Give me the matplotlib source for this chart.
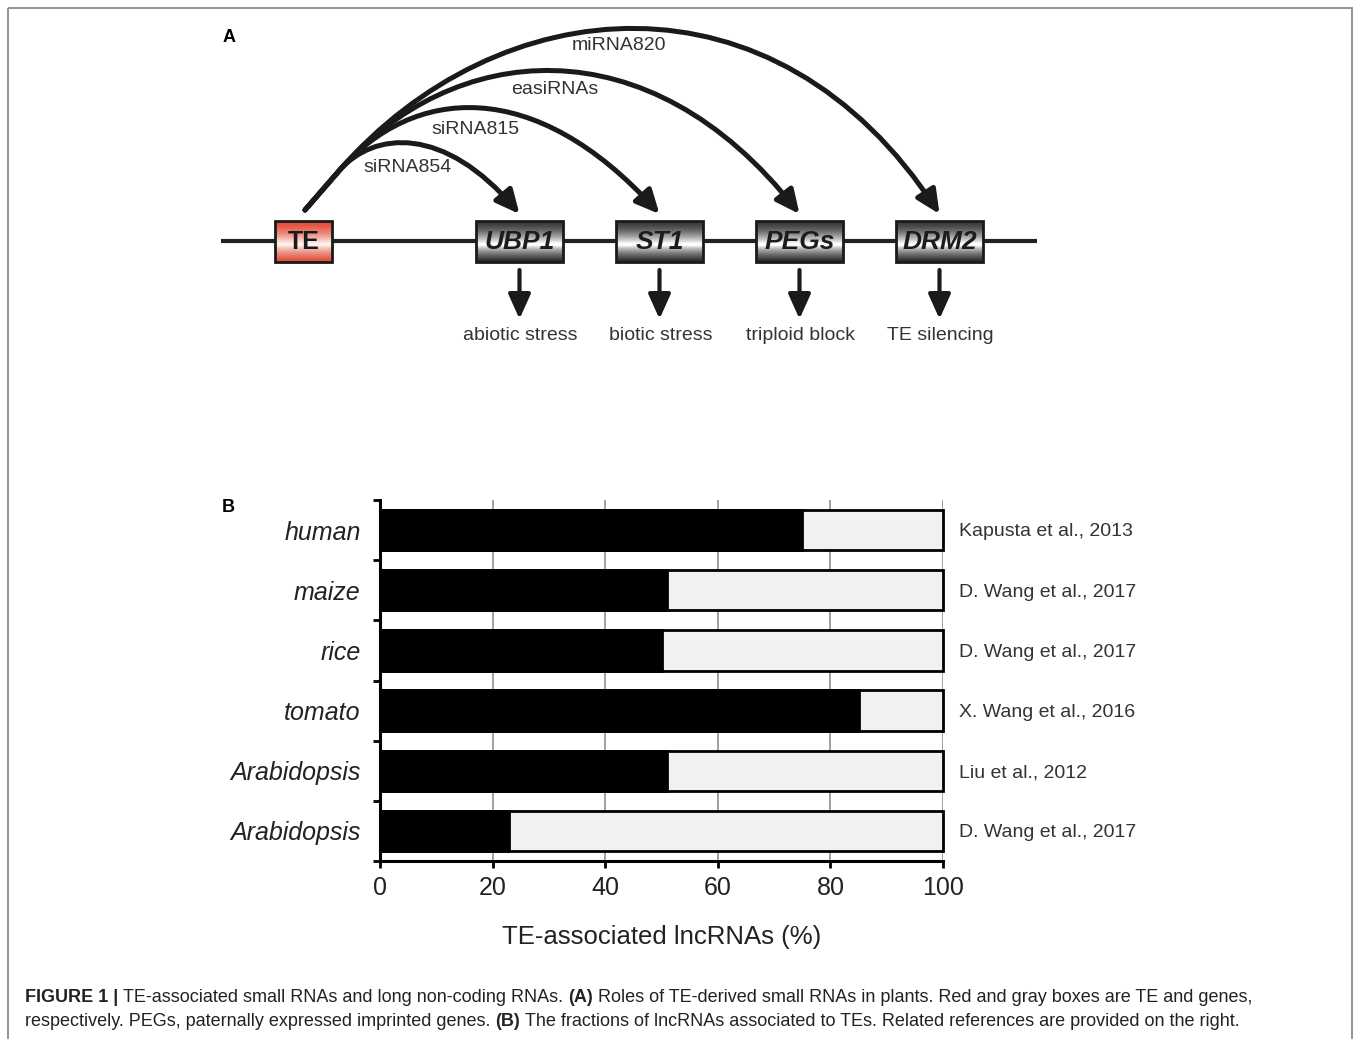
import numpy as np
import matplotlib
matplotlib.use("Agg")
import matplotlib.pyplot as plt
from matplotlib import font_manager
from matplotlib.patches import FancyArrowPatch, Rectangle
from matplotlib.path import Path

# ---- data ----
te_label = "TE"
genes = ["UBP1", "ST1", "PEGs", "DRM2"]
small_rnas = ["siRNA854", "siRNA815", "easiRNAs", "miRNA820"]
effects = ["abiotic stress", "biotic stress", "triploid block", "TE silencing"]

species = ["human", "maize", "rice", "tomato", "Arabidopsis", "Arabidopsis"]
te_pct = [75, 51, 50, 85, 51, 23]
refs = ["Kapusta et al., 2013", "D. Wang et al., 2017", "D. Wang et al., 2017",
        "X. Wang et al., 2016", "Liu et al., 2012", "D. Wang et al., 2017"]

caption1 = [("FIGURE 1 |", True), ("TE-associated small RNAs and long non-coding RNAs.", False),
            ("(A)", True), ("Roles of TE-derived small RNAs in plants. Red and gray boxes are TE and genes,", False)]
caption2 = [("respectively. PEGs, paternally expressed imprinted genes.", False), ("(B)", True),
            ("The fractions of lncRNAs associated to TEs. Related references are provided on the right.", False)]

names = {f.name for f in font_manager.fontManager.ttflist}
SANS = "Liberation Sans" if "Liberation Sans" in names else "DejaVu Sans"
plt.rcParams["font.family"] = [SANS, "DejaVu Sans"]

W, H = 1357, 1039
fig = plt.figure(figsize=(W / 100, H / 100), dpi=100)
ax0 = fig.add_axes([0, 0, 1, 1])
ax0.set_xlim(0, W)
ax0.set_ylim(H, 0)
ax0.axis("off")

# frame
ax0.add_patch(Rectangle((8, 8), 1344, 1060, fill=False, ec="#8a8a8a", lw=1.3, clip_on=False))

# ---- panel A ----
ax0.text(229, 37, "A", fontsize=13, fontweight="bold", ha="center", va="center")
line_y = 241
ax0.plot([221, 1037], [line_y, line_y], color="#222222", lw=3, solid_capstyle="butt", zorder=1)

box_top, box_bot = 221, 262
te_x = 303.5
gene_x = [519.5 + 140 * i for i in range(len(genes))]


def grad_box(xc, hw, c_top, c_mid, c_bot):
    prof = np.linspace(0, 1, 100)[:, None]
    c_top, c_mid, c_bot = map(np.array, (c_top, c_mid, c_bot))
    up = c_top + (c_mid - c_top) * np.clip(prof / 0.55, 0, 1) ** 1.6
    dn = c_mid + (c_bot - c_mid) * np.clip((prof - 0.6) / 0.4, 0, 1) ** 0.7
    col = np.where(prof < 0.55, up, dn)
    img = np.repeat(col[:, None, :], 2, axis=1)
    ax0.imshow(img, extent=(xc - hw, xc + hw, box_bot, box_top), origin="upper",
               aspect="auto", zorder=2, interpolation="bilinear")
    ax0.add_patch(Rectangle((xc - hw, box_top), 2 * hw, box_bot - box_top,
                            fill=False, ec="#1a1a1a", lw=2, zorder=3))


grad_box(te_x, 28.5, (0.89, 0.30, 0.22), (1.0, 0.95, 0.93), (0.87, 0.28, 0.20))
ax0.text(te_x, 242, te_label, fontsize=18, fontweight="bold", ha="center", va="center",
         color="#1a1a1a", zorder=4)
for gx, g in zip(gene_x, genes):
    grad_box(gx, 43.5, (0.22, 0.22, 0.22), (1.0, 1.0, 1.0), (0.13, 0.13, 0.13))
    ax0.text(gx, 242, g, fontsize=19, fontweight="bold", style="italic", ha="center",
             va="center", color="#1c1c1c", zorder=4)

ax0.set_xlim(0, W)
ax0.set_ylim(H, 0)

# arcs from TE to genes: shared stem, then a cubic curve to each gene
start = np.array([305.0, 210.0])
a0 = np.radians(49)
d0 = np.array([np.cos(a0), -np.sin(a0)])
stem = 52
branch = start + d0 * stem
arc_top = [143, 108, 71, 29]
end_angle = [50, 48, 52, 57]
lead = [0.45, 0.6, 0.7, 0.8]
label_x = [408, 475, 555, 619]
label_y = [167, 130, 89, 45]
ts = np.linspace(0, 1, 200)[:, None]


def bez(P, t):
    return ((1 - t) ** 3 * P[0] + 3 * (1 - t) ** 2 * t * P[1]
            + 3 * (1 - t) * t ** 2 * P[2] + t ** 3 * P[3])


for gx, lab, top, ae, k, lx, ly in zip(gene_x, small_rnas, arc_top, end_angle, lead,
                                       label_x, label_y):
    P3 = np.array([gx, 214.0])
    d3 = np.array([-np.cos(np.radians(ae)), -np.sin(np.radians(ae))])
    lo, hi = 0.0, 900.0
    for _ in range(50):
        L = (lo + hi) / 2
        P = [branch, branch + d0 * k * L, P3 + d3 * L, P3]
        if bez(P, ts)[:, 1].min() > top:
            lo = L
        else:
            hi = L
    P = [branch, branch + d0 * k * L, P3 + d3 * L, P3]
    path = Path([start] + P, [Path.MOVETO, Path.LINETO, Path.CURVE4, Path.CURVE4, Path.CURVE4])
    ax0.add_patch(FancyArrowPatch(path=path, arrowstyle="-|>,head_length=0.95,head_width=0.45",
                                  mutation_scale=15, lw=3.6, color="#1a1a1a", zorder=3,
                                  capstyle="round", joinstyle="round"))
    ax0.text(lx, ly, lab, fontsize=14, color="#333333", ha="center", va="center")

# down arrows and effects
for gx, eff in zip(gene_x, effects):
    ax0.add_patch(FancyArrowPatch((gx, 270), (gx, 319), arrowstyle="-|>,head_length=1.0,head_width=0.45",
                                  mutation_scale=15, lw=3, color="#1a1a1a", shrinkA=0, shrinkB=0))
    ax0.text(gx + 1, 335, eff, fontsize=14, color="#333333", ha="center", va="center")

# ---- panel B ----
ax0.text(228, 507, "B", fontsize=13, fontweight="bold", ha="center", va="center")


def fig_box(x0, y0, x1, y1):
    return [x0 / W, 1 - y1 / H, (x1 - x0) / W, (y1 - y0) / H]


ax = fig.add_axes(fig_box(380, 500, 943, 861))
ypos = np.arange(len(species))
ax.barh(ypos, [100] * len(species), height=0.67, color="#f1f1f1", edgecolor="black",
        lw=2, zorder=3, clip_on=False)
ax.barh(ypos, te_pct, height=0.67, color="black", edgecolor="black", lw=2, zorder=4,
        clip_on=False)
ax.set_xlim(0, 100)
ax.set_ylim(len(species) - 0.5, -0.5)
ax.set_xticks(range(0, 101, 20))
ax.xaxis.grid(True, color="#999999", lw=1.3)
ax.set_axisbelow(True)
ax.set_yticks(ypos)
ax.set_yticklabels(species, fontsize=18, style="italic", color="#222222")
ax.set_yticks(np.arange(-0.5, len(species)), minor=True)
ax.tick_params(axis="y", which="major", length=0, pad=14)
ax.tick_params(axis="y", which="minor", length=5, width=2, direction="out")
ax.tick_params(axis="x", length=5, width=2, direction="out", labelsize=18, pad=6,
               labelcolor="#222222")
for s in ["top", "right"]:
    ax.spines[s].set_visible(False)
for s in ["left", "bottom"]:
    ax.spines[s].set_linewidth(2.2)
ax.set_xlabel("TE-associated lncRNAs (%)", fontsize=18.5, color="#222222", labelpad=18)
for y, r in zip(ypos, refs):
    ax.text(102.8, y + 0.03, r, fontsize=14, color="#333333", va="center", ha="left")

# ---- caption ----
rend = fig.canvas.get_renderer()


def width(s, size, bold):
    t = ax0.text(0, 0, s, fontsize=size, fontweight="bold" if bold else "normal")
    w = t.get_window_extent(rend).width
    t.remove()
    return w


def line_width(parts, size):
    sp = width("a a", size, False) - width("aa", size, False)
    return sum(width(s, size, b) for s, b in parts) + sp * (len(parts) - 1)


cap_size = 10 * (1226 / line_width(caption1, 10))


def draw_line(parts, y):
    sp = width("a a", cap_size, False) - width("aa", cap_size, False)
    x = 25
    for s, b in parts:
        ax0.text(x, y, s, fontsize=cap_size, color="#222222",
                 fontweight="bold" if b else "normal", va="center", ha="left")
        x += width(s, cap_size, b) + sp


draw_line(caption1, 997)
draw_line(caption2, 1022)

fig.savefig("out.png", dpi=100)
